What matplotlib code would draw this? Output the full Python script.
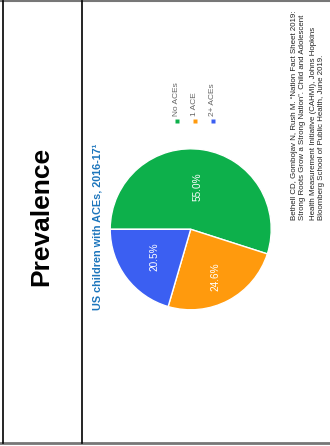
import numpy as np
import matplotlib
matplotlib.use("Agg")
import matplotlib.pyplot as plt

# ─── Data ─────────────────────────────────────────────────────────────────────
categories = ["No ACEs", "1 ACE", "2+ ACEs"]
shares = [55.0, 24.6, 20.5]
colors = ["#0db04b", "#ff9a0d", "#3b5ff2"]

heading = "Prevalence"
title = "US children with ACEs, 2016-17\u00b9"
citation = [
    "Bethell CD, Gombojav N, Rush M. \u201cNation Fact Sheet 2019:",
    "Strong Roots Grow a Strong Nation\u201d. Child and Adolescent",
    "Health Measurement Initiative (CAHMI), Johns Hopkins",
    "Bloomberg School of Public Health, June 2019.",
]

W, H = 330, 446
plt.rcParams["font.family"] = ["Liberation Sans", "DejaVu Sans"]

fig = plt.figure(figsize=(W / 100, H / 100), dpi=100)

# full-figure overlay in pixel coordinates (y down)
bg = fig.add_axes([0, 0, 1, 1])
bg.set_xlim(0, W)
bg.set_ylim(H, 0)
bg.axis("off")

# slide frame
bg.plot([0, W], [1, 1], color="#777777", lw=1.5)
bg.plot([0, W], [443, 443], color="#777777", lw=2)
bg.plot([2.5, 2.5], [1, 443], color="black", lw=1.2)
bg.plot([82, 82], [1, 443], color="black", lw=1.2)

bg.text(41, 216, heading, rotation=90, ha="center", va="center",
        fontsize=19, fontweight="bold", color="black")

bg.text(97, 310, title, rotation=90, ha="center", va="bottom",
        fontsize=7.8, fontweight="bold", color="#1c75bc")

# legend (rotated with the slide)
for i, (name, col) in enumerate(zip(categories, colors)):
    x = 177 + i * 18
    bg.plot(x, 121, marker="s", ms=2.6, color=col, mec="none")
    bg.text(x, 116, name, rotation=90, ha="center", va="bottom",
            fontsize=6, color="#666666")

# citation block
for x, line in zip([294.5, 302.5, 313.5, 321.5], citation):
    bg.text(x, 220, line, rotation=90, ha="center", va="bottom",
            fontsize=5.7, color="#222222")

# ─── Pie ──────────────────────────────────────────────────────────────────────
cx, cy, r = 190.7, 229.3, 80.5
pie_ax = fig.add_axes([(cx - r) / W, 1 - (cy + r) / H, 2 * r / W, 2 * r / H])
wedges, _ = pie_ax.pie(shares, colors=colors, startangle=180, counterclock=False,
                       wedgeprops=dict(edgecolor="white", linewidth=1.0))
pie_ax.set_aspect("auto")
pie_ax.set_xlim(-1, 1)
pie_ax.set_ylim(-1, 1)

label_dist = [0.54, 0.66, 0.56]
for w, v, d in zip(wedges, shares, label_dist):
    ang = np.deg2rad((w.theta1 + w.theta2) / 2)
    pie_ax.text(d * np.cos(ang), d * np.sin(ang), f"{v:.1f}%", rotation=90,
                ha="center", va="center", fontsize=7.2, color="white")

fig.savefig("out.png", dpi=100)
